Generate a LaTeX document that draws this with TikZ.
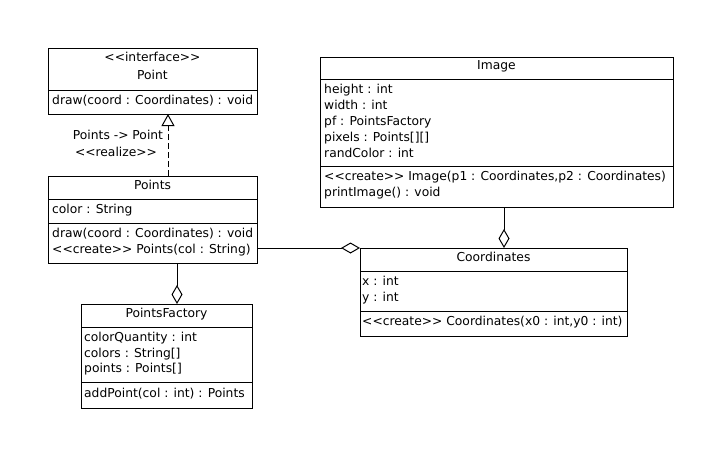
\documentclass[tikz,border=0pt]{standalone}
\usepackage{fontspec}
\setmainfont{DejaVu Sans}
\usetikzlibrary{arrows.meta}
% stereotype brackets; the kerns keep << and >> from turning into guillemets
\newcommand\stereo[1]{<\kern0pt<#1>\kern0pt>}
\begin{document}
\begin{tikzpicture}[x=1pt,y=-1pt,
  every node/.style={font=\fontsize{12.3}{15}\selectfont, inner sep=0pt},
  classbox/.style={draw, line width=1pt, anchor=north west, inner sep=0pt, outer sep=0pt},
  member/.style={anchor=base west},
  heading/.style={anchor=base},
  rule/.style={line width=1pt},
  realize/.style={line width=1pt, dash pattern=on 6pt off 3pt,
    -{Triangle[open,length=12pt,width=13pt]}},
  aggr/.style={line width=1pt, -{Diamond[open,length=19pt,width=11pt]}}]
\useasboundingbox[fill=white] (0,0) rectangle (721,456);

% ---------- Point (interface) ----------
\node[classbox, minimum width=209pt, minimum height=66pt] (point) at (48,48) {};
\node[heading] (pointst) at (152.5,61.5) {\stereo{interface}};
\node[heading] (pointname) at (152.5,79.5) {Point};
\draw[rule] (48,90) -- (257,90);
\node[member] (pointm1) at (52,104.5) {draw(coord : Coordinates) : void};

% ---------- Points ----------
\node[classbox, minimum width=209pt, minimum height=87pt] (points) at (48,176) {};
\node[heading] (pointsname) at (152.5,189.5) {Points};
\draw[rule] (48,199) -- (257,199);
\node[member] (pointsa1) at (52,213.5) {color : String};
\draw[rule] (48,223) -- (257,223);
\node[member] (pointsm1) at (52,237.5) {draw(coord : Coordinates) : void};
\node[member] (pointsm2) at (52,253.5) {\stereo{create} Points(col : String)};

% ---------- PointsFactory ----------
\node[classbox, minimum width=171pt, minimum height=104pt] (factory) at (81,304) {};
\node[heading] (factoryname) at (166.5,317.5) {PointsFactory};
\draw[rule] (81,327) -- (252,327);
\node[member] (factorya1) at (84,341.5) {colorQuantity : int};
\node[member] (factorya2) at (84,357) {colors : String[]};
\node[member] (factorya3) at (84,372.5) {points : Points[]};
\draw[rule] (81,382) -- (252,382);
\node[member] (factorym1) at (84,397.5) {addPoint(col : int) : Points};

% ---------- Image ----------
\node[classbox, minimum width=353pt, minimum height=150pt] (image) at (320,57) {};
\node[heading] (imagename) at (496.5,69.5) {Image};
\draw[rule] (320,79) -- (673,79);
\node[member] (imagea1) at (324,93.5) {height : int};
\node[member] (imagea2) at (324,109.5) {width : int};
\node[member] (imagea3) at (324,125.5) {pf : PointsFactory};
\node[member] (imagea4) at (324,141.5) {pixels : Points[][]};
\node[member] (imagea5) at (324,157.5) {randColor : int};
\draw[rule] (320,166) -- (673,166);
\node[member] (imagem1) at (324,180.5) {\stereo{create} Image(p1 : Coordinates,p2 : Coordinates)};
\node[member] (imagem2) at (324,196.5) {printImage() : void};

% ---------- Coordinates ----------
\node[classbox, minimum width=267pt, minimum height=88pt] (coords) at (360,248) {};
\node[heading] (coordsname) at (493.5,261.5) {Coordinates};
\draw[rule] (360,271) -- (627,271);
\node[member] (coordsa1) at (362,285.5) {x : int};
\node[member] (coordsa2) at (362,301.5) {y : int};
\draw[rule] (360,311) -- (627,311);
\node[member] (coordsm1) at (362,325.5) {\stereo{create} Coordinates(x0 : int,y0 : int)};

% ---------- relations ----------
\draw[realize] ([xshift=15.5pt]points.north) -- ([xshift=15.5pt]point.south);
\node[heading] (reallabel1) at (118,139.5) {Points -> Point};
\node[heading] (reallabel2) at (116,156.5) {\stereo{realize}};

\draw[aggr] ([xshift=24.5pt]points.south) -- ([xshift=10.5pt]factory.north);
\draw[aggr] ([yshift=-28.5pt]points.east) -- (coords.north west);
\draw[aggr] ([xshift=7.5pt]image.south) -- ([xshift=10.5pt]coords.north);
\end{tikzpicture}
\end{document}
